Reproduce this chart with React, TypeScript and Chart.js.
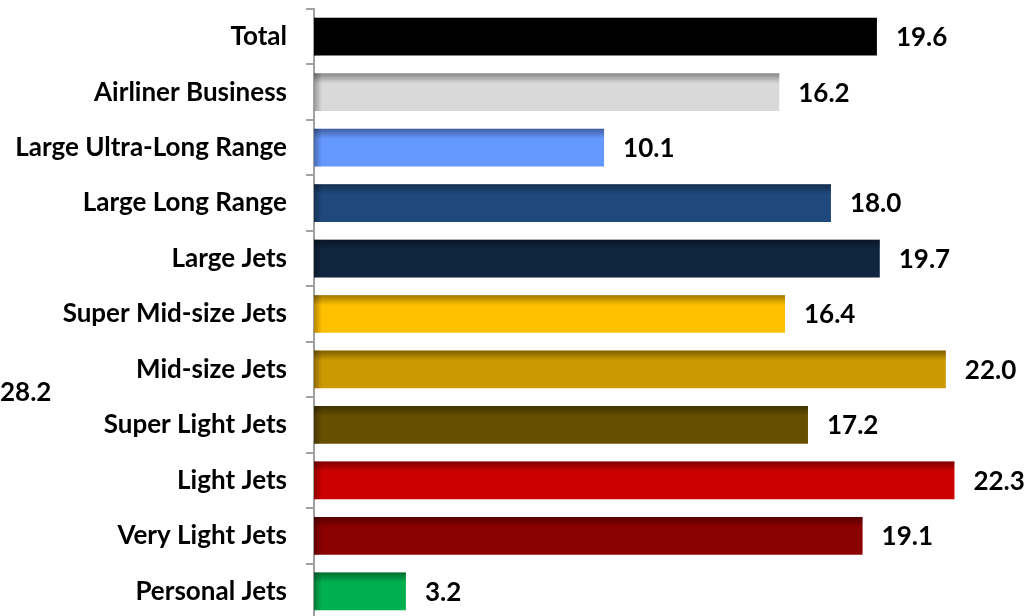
import React, { useEffect, useRef } from "react";
import { Chart, registerables } from "chart.js";

Chart.register(...registerables);

const categories = [
  "Total",
  "Airliner Business",
  "Large Ultra-Long Range",
  "Large Long Range",
  "Large Jets",
  "Super Mid-size Jets",
  "Mid-size Jets",
  "Super Light Jets",
  "Light Jets",
  "Very Light Jets",
  "Personal Jets",
];
const values = [19.6, 16.2, 10.1, 18.0, 19.7, 16.4, 22.0, 17.2, 22.3, 19.1, 3.2];
const barColors = [
  "#000000",
  "#d9d9d9",
  "#6699ff",
  "#1f497d",
  "#10253f",
  "#ffc000",
  "#cc9900",
  "#665000",
  "#cc0000",
  "#8b0000",
  "#00b050",
];
const strayLabel = "28.2";
const strayLabelPos = 6.42; // between Mid-size Jets and Super Light Jets
const xMax = 25;

const FONT_FAMILY = "Lato, 'Liberation Sans', sans-serif";
const FONT = "bold 26px " + FONT_FAMILY;

const bevelPlugin = {
  id: "bevel",
  afterDatasetsDraw(chart: any) {
    const ctx = chart.ctx;
    const meta = chart.getDatasetMeta(0);
    ctx.save();
    meta.data.forEach((bar: any) => {
      const { x, y, base, height } = bar.getProps(["x", "y", "base", "height"], true);
      const top = y - height / 2;
      const left = base;
      const w = x - base;
      const g = ctx.createLinearGradient(0, top, 0, top + 10);
      g.addColorStop(0, "rgba(0,0,0,0.38)");
      g.addColorStop(1, "rgba(0,0,0,0)");
      ctx.fillStyle = g;
      ctx.fillRect(left, top, w, 10);
      const g2 = ctx.createLinearGradient(left, 0, left + 8, 0);
      g2.addColorStop(0, "rgba(0,0,0,0.3)");
      g2.addColorStop(1, "rgba(0,0,0,0)");
      ctx.fillStyle = g2;
      ctx.fillRect(left, top, Math.min(8, w), height);
    });
    ctx.restore();
  },
};

const labelPlugin = {
  id: "valueLabels",
  afterDraw(chart: any) {
    const ctx = chart.ctx;
    const meta = chart.getDatasetMeta(0);
    ctx.save();
    ctx.font = FONT;
    ctx.fillStyle = "#000000";
    ctx.textBaseline = "middle";
    ctx.textAlign = "left";
    meta.data.forEach((bar: any, i: number) => {
      ctx.fillText(values[i].toFixed(1), bar.x + 19, bar.y + 1);
    });
    const ys = chart.scales.y;
    const i0 = Math.floor(strayLabelPos);
    const f = strayLabelPos - i0;
    const yy = ys.getPixelForValue(i0) * (1 - f) + ys.getPixelForValue(i0 + 1) * f;
    ctx.fillText(strayLabel, 0, yy);
    ctx.restore();
  },
};

export default function App() {
  const ref = useRef<HTMLCanvasElement>(null);
  useEffect(() => {
    document.body.style.margin = "0";
    document.body.style.overflow = "hidden";
    const chart = new Chart(ref.current!, {
      type: "bar",
      data: {
        labels: categories,
        datasets: [
          {
            data: values,
            backgroundColor: barColors,
            borderWidth: 0,
            categoryPercentage: 1,
            barPercentage: 0.68,
          },
        ],
      },
      options: {
        indexAxis: "y",
        animation: false,
        responsive: false,
        devicePixelRatio: 1,
        layout: { padding: { top: 9, bottom: 6, right: 0, left: 0 } },
        plugins: { legend: { display: false }, tooltip: { enabled: false } },
        scales: {
          x: { display: false, min: 0, max: xMax },
          y: {
            offset: true,
            afterFit: (s: any) => {
              s.width = 314;
              s.paddingTop = 0;
              s.paddingBottom = 0;
            },
            border: { display: true, color: "#a0a0a0", width: 2 },
            grid: {
              offset: true,
              drawOnChartArea: false,
              drawTicks: true,
              tickLength: 8,
              color: "#a0a0a0",
              lineWidth: 2,
            },
            ticks: {
              padding: 19,
              color: "#000000",
              font: { family: FONT_FAMILY, size: 26, weight: "bold" },
            },
          },
        },
      },
      plugins: [bevelPlugin, labelPlugin],
    });
    return () => chart.destroy();
  }, []);
  return (
    <div style={{ position: "absolute", left: 0, top: 0, width: 1032, height: 616, overflow: "hidden", background: "#fff" }}>
      <canvas ref={ref} width={1032} height={625} style={{ width: 1032, height: 625, display: "block" }} />
    </div>
  );
}
